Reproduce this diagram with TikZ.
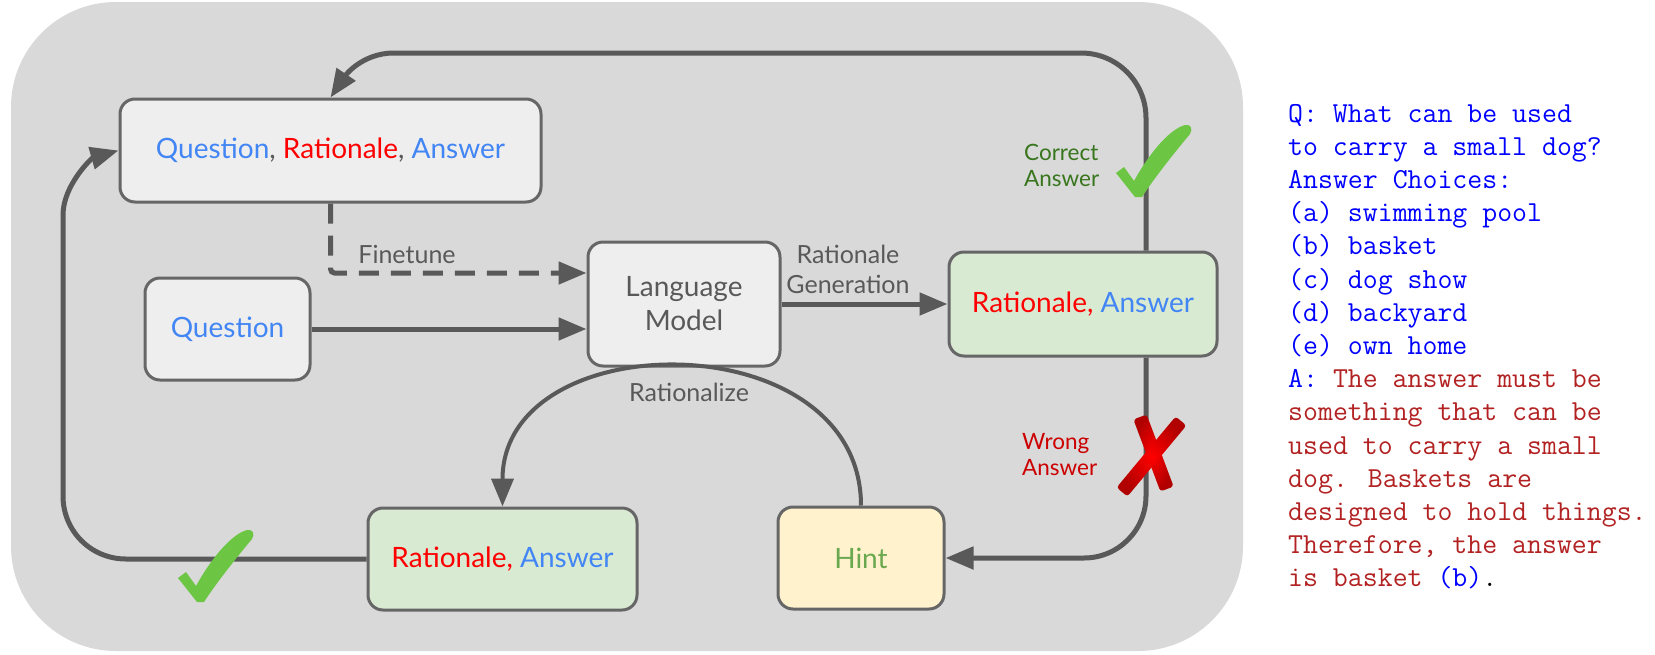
\documentclass[tikz,border=0pt]{standalone}
\usepackage{fontspec}
\setmainfont{Lato}
\usetikzlibrary{arrows.meta,calc}
\definecolor{bggray}{HTML}{D9D9D9}
\definecolor{boxgray}{HTML}{EEEEEE}
\definecolor{boxgreen}{HTML}{D9EAD3}
\definecolor{boxyellow}{HTML}{FFF2CC}
\definecolor{bordergray}{HTML}{666666}
\definecolor{linegray}{HTML}{595959}
\definecolor{txtgray}{HTML}{595959}
\definecolor{qblue}{HTML}{4285F4}
\definecolor{rred}{HTML}{FF0000}
\definecolor{hintgreen}{HTML}{6AA84F}
\definecolor{corrgreen}{HTML}{38761D}
\definecolor{wrongred}{HTML}{CC0000}
\definecolor{chkgreen}{HTML}{6CC644}
\definecolor{xdark}{HTML}{B00000}
\definecolor{tblue}{HTML}{0000FF}
\definecolor{tred}{HTML}{B22222}
\begin{document}
\begin{tikzpicture}[x=1pt,y=-1pt,
  box/.style={draw=bordergray, line width=3pt, rounded corners=15pt, inner sep=0pt, text=txtgray, font=\fontsize{28}{34}\selectfont, align=center},
  conn/.style={draw=linegray, line width=5pt},
  arr/.style={-{Triangle[length=28pt,width=22pt]}},
  lbl/.style={text=txtgray, font=\fontsize{25}{30}\selectfont, align=center, inner sep=0pt},
  side/.style={font=\fontsize{22.5}{26}\selectfont, align=left, inner sep=0pt},
  mono/.style={font=\ttfamily\fontsize{29}{33.2}\selectfont, anchor=base west, inner sep=0pt},
  chk/.pic={\fill[chkgreen] (0,0) -- (-19,-24) -- (-11,-30) -- (-1,-16) .. controls (15,-45) and (35,-68) .. (50,-72) .. controls (56,-73) and (58,-68) .. (55,-63) .. controls (40,-45) and (20,-20) .. (7,0) -- cycle;}
]
\useasboundingbox (0,0) rectangle (1655,654);
\fill[bggray, rounded corners=105pt] (11,2) rectangle (1243,651);

% boxes
\node[box, fill=boxgray, minimum width=421pt, minimum height=103pt] (qra) at (330.5,150.5)
  {\textcolor{qblue}{Question}, \textcolor{rred}{Rationale}, \textcolor{qblue}{Answer}};
\node[box, fill=boxgray, minimum width=165pt, minimum height=102pt] (q) at (227.5,329)
  {\textcolor{qblue}{Question}};
\node[box, fill=boxgray, minimum width=192pt, minimum height=124pt] (lm) at (684,304)
  {Language\\Model};
\node[box, fill=boxgreen, minimum width=268pt, minimum height=104pt] (ra1) at (1083,304)
  {\textcolor{rred}{Rationale,} \textcolor{qblue}{Answer}};
\node[box, fill=boxgreen, minimum width=269pt, minimum height=102pt] (ra2) at (502.5,559)
  {\textcolor{rred}{Rationale,} \textcolor{qblue}{Answer}};
\node[box, fill=boxyellow, minimum width=166pt, minimum height=102pt] (hint) at (861,558)
  {\textcolor{hintgreen}{Hint}};

% connectors
\draw[conn, arr] (q.east) -- (q.east -| lm.west);
\draw[conn, arr, dash pattern=on 20pt off 12pt, rounded corners=4pt] (qra.south) |- ($(lm.west)+(0,-31)$);
\draw[conn, arr] (lm.east) -- (ra1.west);
\coordinate (c1) at ($(ra1.north)+(63,0)$);
\coordinate (c2) at ($(ra1.south)+(63,0)$);
\coordinate (c3) at (394,53);
\coordinate (c5) at (63,215);
\draw[conn, arr] (c1) -- (1146,118) .. controls (1146,82) and (1117,53) .. (1081,53)
  -- (c3) .. controls (362,53) and (345,76) .. (qra.north);
\draw[conn, arr, rounded corners=62pt] (c2) |- (hint.east);
\draw[conn, arr] (ra2.west) -- (126,559) .. controls (91,559) and (63,531) .. (63,496)
  -- (c5) .. controls (63,185) and (92,158) .. (qra.west);
\draw[conn, line width=4pt, arr] (hint.north) .. controls +(0,-184) and +(0,-184) .. (ra2.north);

% labels
\node[lbl] (lft) at (407,254) {Finetune};
\node[lbl] (lrg) at (848,269) {Rationale\\Generation};
\node[lbl] (lrz) at (689,392) {Rationalize};
\node[side, text=corrgreen, anchor=west] (lca) at (1024,165) {Correct\\Answer};
\node[side, text=wrongred, anchor=west] (lwa) at (1022,455) {Wrong\\Answer};

% marks
\pic at (1135,197) {chk};
\pic at (197,602) {chk};
\shade[inner color=rred, outer color=xdark, rounded corners=3pt]
  (1146.6,414.5) -- (1173.6,486.5) -- (1160.4,491.5) -- (1133.4,419.5) -- cycle;
\shade[inner color=rred, outer color=xdark, rounded corners=3pt]
  (1186.4,425.5) -- (1127.4,496.5) -- (1116.6,487.5) -- (1175.6,416.5) -- cycle;

% example text
\node[mono, text=tblue] (t0) at (1288,122.0) {Q: What can be used};
\node[mono, text=tblue] (t1) at (1288,155.2) {to carry a small dog?};
\node[mono, text=tblue] (t2) at (1288,188.4) {Answer Choices:};
\node[mono, text=tblue] (t3) at (1288,221.6) {(a) swimming pool};
\node[mono, text=tblue] (t4) at (1288,254.8) {(b) basket};
\node[mono, text=tblue] (t5) at (1288,288.0) {(c) dog show};
\node[mono, text=tblue] (t6) at (1288,321.2) {(d) backyard};
\node[mono, text=tblue] (t7) at (1288,354.4) {(e) own home};
\node[mono, text=tred] (t8) at (1288,387.6) {\textcolor{tblue}{A:} The answer must be};
\node[mono, text=tred] (t9) at (1288,420.8) {something that can be};
\node[mono, text=tred] (t10) at (1288,454.0) {used to carry a small};
\node[mono, text=tred] (t11) at (1288,487.2) {dog. Baskets are};
\node[mono, text=tred] (t12) at (1288,520.4) {designed to hold things.};
\node[mono, text=tred] (t13) at (1288,553.6) {Therefore, the answer};
\node[mono, text=tred] (t14) at (1288,586.8) {is basket \textcolor{tblue}{(b)}\textcolor{black}{.}};
\end{tikzpicture}
\end{document}
